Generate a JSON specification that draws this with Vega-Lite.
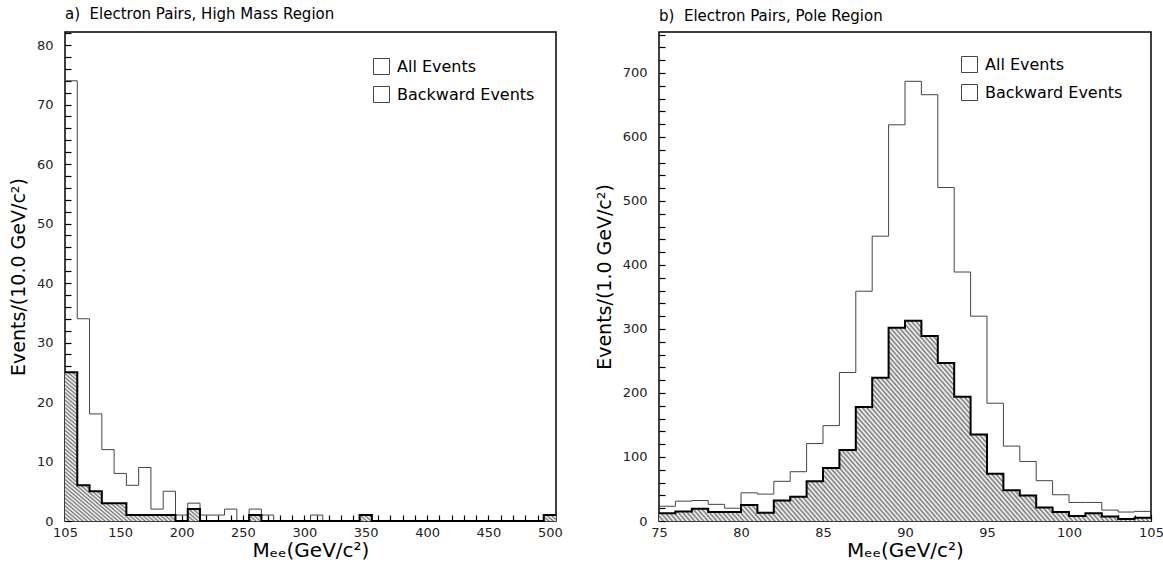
{
  "$schema": "https://vega.github.io/schema/vega-lite/v6.json",
  "padding": {"left": 8, "top": 6, "right": 8, "bottom": 2},
  "spacing": 30,
  "resolve": {"scale": {"opacity": "independent"}, "legend": {"opacity": "independent"}},
  "config": {
    "font": "DejaVu Sans",
    "view": {"stroke": "black", "strokeWidth": 1.5},
    "axis": {
      "zindex": 1, "offset": -6, "domain": false, "ticks": true,
      "tickColor": "black", "tickWidth": 1.2, "tickSize": 6,
      "labelFont": "DejaVu Sans", "labelFontSize": 13, "labelColor": "#222",
      "titleFont": "DejaVu Sans", "titleFontSize": 19, "titleFontWeight": "normal", "titleColor": "black",
      "grid": false, "labelFlush": false, "labelOverlap": false
    },
    "title": {"font": "DejaVu Sans", "fontSize": 15, "fontWeight": "normal", "anchor": "start", "frame": "group", "color": "black", "offset": 5},
    "line": {"strokeJoin": "miter", "strokeCap": "butt"},
    "area": {"stroke": null, "fill": {"gradient": "linear", "x1": 0, "y1": 1, "x2": 1.2035, "y2": 0.5715, "stops": [
{"offset":0,"color":"#777"},{"offset":0.0033,"color":"#fff"},{"offset":0.0067,"color":"#777"},
{"offset":0.01,"color":"#fff"},{"offset":0.0133,"color":"#777"},{"offset":0.0167,"color":"#fff"},
{"offset":0.02,"color":"#777"},{"offset":0.0233,"color":"#fff"},{"offset":0.0267,"color":"#777"},
{"offset":0.03,"color":"#fff"},{"offset":0.0333,"color":"#777"},{"offset":0.0367,"color":"#fff"},
{"offset":0.04,"color":"#777"},{"offset":0.0433,"color":"#fff"},{"offset":0.0467,"color":"#777"},
{"offset":0.05,"color":"#fff"},{"offset":0.0533,"color":"#777"},{"offset":0.0567,"color":"#fff"},
{"offset":0.06,"color":"#777"},{"offset":0.0633,"color":"#fff"},{"offset":0.0667,"color":"#777"},
{"offset":0.07,"color":"#fff"},{"offset":0.0733,"color":"#777"},{"offset":0.0767,"color":"#fff"},
{"offset":0.08,"color":"#777"},{"offset":0.0833,"color":"#fff"},{"offset":0.0867,"color":"#777"},
{"offset":0.09,"color":"#fff"},{"offset":0.0933,"color":"#777"},{"offset":0.0967,"color":"#fff"},
{"offset":0.1,"color":"#777"},{"offset":0.1033,"color":"#fff"},{"offset":0.1067,"color":"#777"},
{"offset":0.11,"color":"#fff"},{"offset":0.1133,"color":"#777"},{"offset":0.1167,"color":"#fff"},
{"offset":0.12,"color":"#777"},{"offset":0.1233,"color":"#fff"},{"offset":0.1267,"color":"#777"},
{"offset":0.13,"color":"#fff"},{"offset":0.1333,"color":"#777"},{"offset":0.1367,"color":"#fff"},
{"offset":0.14,"color":"#777"},{"offset":0.1433,"color":"#fff"},{"offset":0.1467,"color":"#777"},
{"offset":0.15,"color":"#fff"},{"offset":0.1533,"color":"#777"},{"offset":0.1567,"color":"#fff"},
{"offset":0.16,"color":"#777"},{"offset":0.1633,"color":"#fff"},{"offset":0.1667,"color":"#777"},
{"offset":0.17,"color":"#fff"},{"offset":0.1733,"color":"#777"},{"offset":0.1767,"color":"#fff"},
{"offset":0.18,"color":"#777"},{"offset":0.1833,"color":"#fff"},{"offset":0.1867,"color":"#777"},
{"offset":0.19,"color":"#fff"},{"offset":0.1933,"color":"#777"},{"offset":0.1967,"color":"#fff"},
{"offset":0.2,"color":"#777"},{"offset":0.2033,"color":"#fff"},{"offset":0.2067,"color":"#777"},
{"offset":0.21,"color":"#fff"},{"offset":0.2133,"color":"#777"},{"offset":0.2167,"color":"#fff"},
{"offset":0.22,"color":"#777"},{"offset":0.2233,"color":"#fff"},{"offset":0.2267,"color":"#777"},
{"offset":0.23,"color":"#fff"},{"offset":0.2333,"color":"#777"},{"offset":0.2367,"color":"#fff"},
{"offset":0.24,"color":"#777"},{"offset":0.2433,"color":"#fff"},{"offset":0.2467,"color":"#777"},
{"offset":0.25,"color":"#fff"},{"offset":0.2533,"color":"#777"},{"offset":0.2567,"color":"#fff"},
{"offset":0.26,"color":"#777"},{"offset":0.2633,"color":"#fff"},{"offset":0.2667,"color":"#777"},
{"offset":0.27,"color":"#fff"},{"offset":0.2733,"color":"#777"},{"offset":0.2767,"color":"#fff"},
{"offset":0.28,"color":"#777"},{"offset":0.2833,"color":"#fff"},{"offset":0.2867,"color":"#777"},
{"offset":0.29,"color":"#fff"},{"offset":0.2933,"color":"#777"},{"offset":0.2967,"color":"#fff"},
{"offset":0.3,"color":"#777"},{"offset":0.3033,"color":"#fff"},{"offset":0.3067,"color":"#777"},
{"offset":0.31,"color":"#fff"},{"offset":0.3133,"color":"#777"},{"offset":0.3167,"color":"#fff"},
{"offset":0.32,"color":"#777"},{"offset":0.3233,"color":"#fff"},{"offset":0.3267,"color":"#777"},
{"offset":0.33,"color":"#fff"},{"offset":0.3333,"color":"#777"},{"offset":0.3367,"color":"#fff"},
{"offset":0.34,"color":"#777"},{"offset":0.3433,"color":"#fff"},{"offset":0.3467,"color":"#777"},
{"offset":0.35,"color":"#fff"},{"offset":0.3533,"color":"#777"},{"offset":0.3567,"color":"#fff"},
{"offset":0.36,"color":"#777"},{"offset":0.3633,"color":"#fff"},{"offset":0.3667,"color":"#777"},
{"offset":0.37,"color":"#fff"},{"offset":0.3733,"color":"#777"},{"offset":0.3767,"color":"#fff"},
{"offset":0.38,"color":"#777"},{"offset":0.3833,"color":"#fff"},{"offset":0.3867,"color":"#777"},
{"offset":0.39,"color":"#fff"},{"offset":0.3933,"color":"#777"},{"offset":0.3967,"color":"#fff"},
{"offset":0.4,"color":"#777"},{"offset":0.4033,"color":"#fff"},{"offset":0.4067,"color":"#777"},
{"offset":0.41,"color":"#fff"},{"offset":0.4133,"color":"#777"},{"offset":0.4167,"color":"#fff"},
{"offset":0.42,"color":"#777"},{"offset":0.4233,"color":"#fff"},{"offset":0.4267,"color":"#777"},
{"offset":0.43,"color":"#fff"},{"offset":0.4333,"color":"#777"},{"offset":0.4367,"color":"#fff"},
{"offset":0.44,"color":"#777"},{"offset":0.4433,"color":"#fff"},{"offset":0.4467,"color":"#777"},
{"offset":0.45,"color":"#fff"},{"offset":0.4533,"color":"#777"},{"offset":0.4567,"color":"#fff"},
{"offset":0.46,"color":"#777"},{"offset":0.4633,"color":"#fff"},{"offset":0.4667,"color":"#777"},
{"offset":0.47,"color":"#fff"},{"offset":0.4733,"color":"#777"},{"offset":0.4767,"color":"#fff"},
{"offset":0.48,"color":"#777"},{"offset":0.4833,"color":"#fff"},{"offset":0.4867,"color":"#777"},
{"offset":0.49,"color":"#fff"},{"offset":0.4933,"color":"#777"},{"offset":0.4967,"color":"#fff"},
{"offset":0.5,"color":"#777"},{"offset":0.5033,"color":"#fff"},{"offset":0.5067,"color":"#777"},
{"offset":0.51,"color":"#fff"},{"offset":0.5133,"color":"#777"},{"offset":0.5167,"color":"#fff"},
{"offset":0.52,"color":"#777"},{"offset":0.5233,"color":"#fff"},{"offset":0.5267,"color":"#777"},
{"offset":0.53,"color":"#fff"},{"offset":0.5333,"color":"#777"},{"offset":0.5367,"color":"#fff"},
{"offset":0.54,"color":"#777"},{"offset":0.5433,"color":"#fff"},{"offset":0.5467,"color":"#777"},
{"offset":0.55,"color":"#fff"},{"offset":0.5533,"color":"#777"},{"offset":0.5567,"color":"#fff"},
{"offset":0.56,"color":"#777"},{"offset":0.5633,"color":"#fff"},{"offset":0.5667,"color":"#777"},
{"offset":0.57,"color":"#fff"},{"offset":0.5733,"color":"#777"},{"offset":0.5767,"color":"#fff"},
{"offset":0.58,"color":"#777"},{"offset":0.5833,"color":"#fff"},{"offset":0.5867,"color":"#777"},
{"offset":0.59,"color":"#fff"},{"offset":0.5933,"color":"#777"},{"offset":0.5967,"color":"#fff"},
{"offset":0.6,"color":"#777"},{"offset":0.6033,"color":"#fff"},{"offset":0.6067,"color":"#777"},
{"offset":0.61,"color":"#fff"},{"offset":0.6133,"color":"#777"},{"offset":0.6167,"color":"#fff"},
{"offset":0.62,"color":"#777"},{"offset":0.6233,"color":"#fff"},{"offset":0.6267,"color":"#777"},
{"offset":0.63,"color":"#fff"},{"offset":0.6333,"color":"#777"},{"offset":0.6367,"color":"#fff"},
{"offset":0.64,"color":"#777"},{"offset":0.6433,"color":"#fff"},{"offset":0.6467,"color":"#777"},
{"offset":0.65,"color":"#fff"},{"offset":0.6533,"color":"#777"},{"offset":0.6567,"color":"#fff"},
{"offset":0.66,"color":"#777"},{"offset":0.6633,"color":"#fff"},{"offset":0.6667,"color":"#777"},
{"offset":0.67,"color":"#fff"},{"offset":0.6733,"color":"#777"},{"offset":0.6767,"color":"#fff"},
{"offset":0.68,"color":"#777"},{"offset":0.6833,"color":"#fff"},{"offset":0.6867,"color":"#777"},
{"offset":0.69,"color":"#fff"},{"offset":0.6933,"color":"#777"},{"offset":0.6967,"color":"#fff"},
{"offset":0.7,"color":"#777"},{"offset":0.7033,"color":"#fff"},{"offset":0.7067,"color":"#777"},
{"offset":0.71,"color":"#fff"},{"offset":0.7133,"color":"#777"},{"offset":0.7167,"color":"#fff"},
{"offset":0.72,"color":"#777"},{"offset":0.7233,"color":"#fff"},{"offset":0.7267,"color":"#777"},
{"offset":0.73,"color":"#fff"},{"offset":0.7333,"color":"#777"},{"offset":0.7367,"color":"#fff"},
{"offset":0.74,"color":"#777"},{"offset":0.7433,"color":"#fff"},{"offset":0.7467,"color":"#777"},
{"offset":0.75,"color":"#fff"},{"offset":0.7533,"color":"#777"},{"offset":0.7567,"color":"#fff"},
{"offset":0.76,"color":"#777"},{"offset":0.7633,"color":"#fff"},{"offset":0.7667,"color":"#777"},
{"offset":0.77,"color":"#fff"},{"offset":0.7733,"color":"#777"},{"offset":0.7767,"color":"#fff"},
{"offset":0.78,"color":"#777"},{"offset":0.7833,"color":"#fff"},{"offset":0.7867,"color":"#777"},
{"offset":0.79,"color":"#fff"},{"offset":0.7933,"color":"#777"},{"offset":0.7967,"color":"#fff"},
{"offset":0.8,"color":"#777"},{"offset":0.8033,"color":"#fff"},{"offset":0.8067,"color":"#777"},
{"offset":0.81,"color":"#fff"},{"offset":0.8133,"color":"#777"},{"offset":0.8167,"color":"#fff"},
{"offset":0.82,"color":"#777"},{"offset":0.8233,"color":"#fff"},{"offset":0.8267,"color":"#777"},
{"offset":0.83,"color":"#fff"},{"offset":0.8333,"color":"#777"},{"offset":0.8367,"color":"#fff"},
{"offset":0.84,"color":"#777"},{"offset":0.8433,"color":"#fff"},{"offset":0.8467,"color":"#777"},
{"offset":0.85,"color":"#fff"},{"offset":0.8533,"color":"#777"},{"offset":0.8567,"color":"#fff"},
{"offset":0.86,"color":"#777"},{"offset":0.8633,"color":"#fff"},{"offset":0.8667,"color":"#777"},
{"offset":0.87,"color":"#fff"},{"offset":0.8733,"color":"#777"},{"offset":0.8767,"color":"#fff"},
{"offset":0.88,"color":"#777"},{"offset":0.8833,"color":"#fff"},{"offset":0.8867,"color":"#777"},
{"offset":0.89,"color":"#fff"},{"offset":0.8933,"color":"#777"},{"offset":0.8967,"color":"#fff"},
{"offset":0.9,"color":"#777"},{"offset":0.9033,"color":"#fff"},{"offset":0.9067,"color":"#777"},
{"offset":0.91,"color":"#fff"},{"offset":0.9133,"color":"#777"},{"offset":0.9167,"color":"#fff"},
{"offset":0.92,"color":"#777"},{"offset":0.9233,"color":"#fff"},{"offset":0.9267,"color":"#777"},
{"offset":0.93,"color":"#fff"},{"offset":0.9333,"color":"#777"},{"offset":0.9367,"color":"#fff"},
{"offset":0.94,"color":"#777"},{"offset":0.9433,"color":"#fff"},{"offset":0.9467,"color":"#777"},
{"offset":0.95,"color":"#fff"},{"offset":0.9533,"color":"#777"},{"offset":0.9567,"color":"#fff"},
{"offset":0.96,"color":"#777"},{"offset":0.9633,"color":"#fff"},{"offset":0.9667,"color":"#777"},
{"offset":0.97,"color":"#fff"},{"offset":0.9733,"color":"#777"},{"offset":0.9767,"color":"#fff"},
{"offset":0.98,"color":"#777"},{"offset":0.9833,"color":"#fff"},{"offset":0.9867,"color":"#777"},
{"offset":0.99,"color":"#fff"},{"offset":0.9933,"color":"#777"},{"offset":0.9967,"color":"#fff"},
{"offset":1,"color":"#777"}
    ]}}
  },
  "datasets": {
    "high": [
      {"lo":105,"hi":115,"all":74,"bwd":25},{"lo":115,"hi":125,"all":34,"bwd":6},
      {"lo":125,"hi":135,"all":18,"bwd":5},{"lo":135,"hi":145,"all":12,"bwd":3},
      {"lo":145,"hi":155,"all":8,"bwd":3},{"lo":155,"hi":165,"all":6,"bwd":1},
      {"lo":165,"hi":175,"all":9,"bwd":1},{"lo":175,"hi":185,"all":2,"bwd":1},
      {"lo":185,"hi":195,"all":5,"bwd":1},{"lo":195,"hi":205,"all":1,"bwd":0},
      {"lo":205,"hi":215,"all":3,"bwd":2},{"lo":215,"hi":225,"all":1,"bwd":0},
      {"lo":225,"hi":235,"all":1,"bwd":0},{"lo":235,"hi":245,"all":2,"bwd":0},
      {"lo":245,"hi":255,"all":0,"bwd":0},{"lo":255,"hi":265,"all":2,"bwd":1},
      {"lo":265,"hi":275,"all":1,"bwd":0},{"lo":275,"hi":285,"all":0,"bwd":0},
      {"lo":285,"hi":295,"all":0,"bwd":0},{"lo":295,"hi":305,"all":0,"bwd":0},
      {"lo":305,"hi":315,"all":1,"bwd":0},{"lo":315,"hi":325,"all":0,"bwd":0},
      {"lo":325,"hi":335,"all":0,"bwd":0},{"lo":335,"hi":345,"all":0,"bwd":0},
      {"lo":345,"hi":355,"all":1,"bwd":1},{"lo":355,"hi":365,"all":0,"bwd":0},
      {"lo":365,"hi":375,"all":0,"bwd":0},{"lo":375,"hi":385,"all":0,"bwd":0},
      {"lo":385,"hi":395,"all":0,"bwd":0},{"lo":395,"hi":405,"all":0,"bwd":0},
      {"lo":405,"hi":415,"all":0,"bwd":0},{"lo":415,"hi":425,"all":0,"bwd":0},
      {"lo":425,"hi":435,"all":0,"bwd":0},{"lo":435,"hi":445,"all":0,"bwd":0},
      {"lo":445,"hi":455,"all":0,"bwd":0},{"lo":455,"hi":465,"all":0,"bwd":0},
      {"lo":465,"hi":475,"all":0,"bwd":0},{"lo":475,"hi":485,"all":0,"bwd":0},
      {"lo":485,"hi":495,"all":0,"bwd":0},{"lo":495,"hi":505,"all":1,"bwd":1}
    ],
    "pole": [
      {"lo":75,"hi":76,"all":23,"bwd":12},{"lo":76,"hi":77,"all":31,"bwd":15},
      {"lo":77,"hi":78,"all":32,"bwd":19},{"lo":78,"hi":79,"all":26,"bwd":14},
      {"lo":79,"hi":80,"all":20,"bwd":14},{"lo":80,"hi":81,"all":44,"bwd":25},
      {"lo":81,"hi":82,"all":42,"bwd":13},{"lo":82,"hi":83,"all":62,"bwd":32},
      {"lo":83,"hi":84,"all":77,"bwd":38},{"lo":84,"hi":85,"all":121,"bwd":62},
      {"lo":85,"hi":86,"all":149,"bwd":83},{"lo":86,"hi":87,"all":232,"bwd":111},
      {"lo":87,"hi":88,"all":359,"bwd":178},{"lo":88,"hi":89,"all":445,"bwd":224},
      {"lo":89,"hi":90,"all":619,"bwd":302},{"lo":90,"hi":91,"all":687,"bwd":313},
      {"lo":91,"hi":92,"all":666,"bwd":289},{"lo":92,"hi":93,"all":521,"bwd":247},
      {"lo":93,"hi":94,"all":389,"bwd":194},{"lo":94,"hi":95,"all":320,"bwd":135},
      {"lo":95,"hi":96,"all":184,"bwd":74},{"lo":96,"hi":97,"all":117,"bwd":48},
      {"lo":97,"hi":98,"all":93,"bwd":40},{"lo":98,"hi":99,"all":63,"bwd":21},
      {"lo":99,"hi":100,"all":41,"bwd":14},{"lo":100,"hi":101,"all":29,"bwd":8},
      {"lo":101,"hi":102,"all":29,"bwd":12},{"lo":102,"hi":103,"all":17,"bwd":7},
      {"lo":103,"hi":104,"all":14,"bwd":3},{"lo":104,"hi":105,"all":15,"bwd":5}
    ]
  },
  "hconcat": [
    {
      "width": 491, "height": 489,
      "title": {"text": "a)\u00a0\u00a0Electron Pairs, High Mass Region"},
      "data": {"name": "high"},
      "transform": [
        {"fold": ["all", "bwd"], "as": ["series", "count"]},
        {"fold": ["lo", "hi"], "as": ["side", "mass"]}
      ],
      "encoding": {
        "x": {"field": "mass", "type": "quantitative", "title": "Mₑₑ(GeV/c²)",
          "scale": {"domain": [105, 505], "nice": false, "zero": false},
          "axis": {"values": [105,110,120,130,140,150,160,170,180,190,200,210,220,230,240,250,260,270,280,290,300,310,320,330,340,350,360,370,380,390,400,410,420,430,440,450,460,470,480,490,500],
            "labelExpr": "datum.value === 105 || datum.value % 50 === 0 ? datum.label : ''",
            "labelPadding": 5, "titlePadding": 1, "titleFontSize": 20}},
        "y": {"field": "count", "type": "quantitative", "stack": null, "title": "Events/(10.0 GeV/c²)",
          "scale": {"domain": [0, 82.2], "nice": false},
          "axis": {"values": [0,2,4,6,8,10,12,14,16,18,20,22,24,26,28,30,32,34,36,38,40,42,44,46,48,50,52,54,56,58,60,62,64,66,68,70,72,74,76,78,80,82],
            "labelExpr": "datum.value % 10 === 0 ? datum.label : ''",
            "labelPadding": 12, "titlePadding": 8}}
      },
      "layer": [
        {"transform": [{"filter": "datum.series === 'bwd'"}], "mark": {"type": "area"}},
        {"mark": {"type": "line"},
          "encoding": {
            "detail": {"field": "series"},
            "order": [{"field": "lo", "type": "quantitative"}, {"field": "side", "type": "nominal", "sort": "descending"}],
            "strokeWidth": {"condition": {"test": "datum.series === 'bwd'", "value": 2}, "value": 1},
            "color": {"condition": {"test": "datum.series === 'bwd'", "value": "black"}, "value": "#444"},
            "opacity": {"field": "series", "type": "ordinal", "scale": {"domain": ["all", "bwd"], "range": [1, 1]},
              "legend": {"orient": "none", "legendX": 308, "legendY": 26, "title": null, "symbolType": "square", "symbolSize": 256,
                "symbolStrokeWidth": 1, "labelFont": "DejaVu Sans", "labelFontSize": 16, "labelColor": "black", "labelOffset": 7, "rowPadding": 7,
                "labelExpr": "datum.value === 'all' ? 'All Events' : 'Backward Events'",
                "encode": {"symbols": {
                  "fill": {"condition": {"test": "datum.value === 'bwd' || datum.label === 'bwd' || datum.index === 1 || (datum.datum && datum.datum.value === 'bwd')", "value": {"gradient": "linear", "x1": 0, "y1": 1, "x2": 1, "y2": 0, "stops": [
                    {"offset":0,"color":"#fff"},{"offset":0.0714,"color":"#444"},{"offset":0.1429,"color":"#fff"},{"offset":0.2143,"color":"#444"},
                    {"offset":0.2857,"color":"#fff"},{"offset":0.3571,"color":"#444"},{"offset":0.4286,"color":"#fff"},{"offset":0.5,"color":"#444"},
                    {"offset":0.5714,"color":"#fff"},{"offset":0.6429,"color":"#444"},{"offset":0.7143,"color":"#fff"},{"offset":0.7857,"color":"#444"},
                    {"offset":0.8571,"color":"#fff"},{"offset":0.9286,"color":"#444"},{"offset":1,"color":"#fff"}]}}, "value": "white"},
                  "stroke": {"condition": {"test": "datum.value === 'bwd' || datum.label === 'bwd' || datum.index === 1 || (datum.datum && datum.datum.value === 'bwd')", "value": "transparent"}, "value": "black"},
                  "strokeWidth": {"value": 1}}}}}
          }}
      ]
    },
    {
      "width": 492, "height": 489,
      "title": {"text": "b)\u00a0\u00a0Electron Pairs, Pole Region"},
      "data": {"name": "pole"},
      "transform": [
        {"fold": ["all", "bwd"], "as": ["series", "count"]},
        {"fold": ["lo", "hi"], "as": ["side", "mass"]}
      ],
      "encoding": {
        "x": {"field": "mass", "type": "quantitative", "title": "Mₑₑ(GeV/c²)",
          "scale": {"domain": [75, 105], "nice": false, "zero": false},
          "axis": {"values": [75,76,77,78,79,80,81,82,83,84,85,86,87,88,89,90,91,92,93,94,95,96,97,98,99,100,101,102,103,104,105],
            "labelExpr": "datum.value % 5 === 0 ? datum.label : ''",
            "labelPadding": 5, "titlePadding": 1, "titleFontSize": 20}},
        "y": {"field": "count", "type": "quantitative", "stack": null, "title": "Events/(1.0 GeV/c²)",
          "scale": {"domain": [0, 764], "nice": false},
          "axis": {"values": [0,20,40,60,80,100,120,140,160,180,200,220,240,260,280,300,320,340,360,380,400,420,440,460,480,500,520,540,560,580,600,620,640,660,680,700,720,740,760],
            "labelExpr": "datum.value % 100 === 0 ? datum.label : ''",
            "labelPadding": 12, "titlePadding": 8}}
      },
      "layer": [
        {"transform": [{"filter": "datum.series === 'bwd'"}], "mark": {"type": "area"}},
        {"mark": {"type": "line"},
          "encoding": {
            "detail": {"field": "series"},
            "order": [{"field": "lo", "type": "quantitative"}, {"field": "side", "type": "nominal", "sort": "descending"}],
            "strokeWidth": {"condition": {"test": "datum.series === 'bwd'", "value": 2}, "value": 1},
            "color": {"condition": {"test": "datum.series === 'bwd'", "value": "black"}, "value": "#444"},
            "opacity": {"field": "series", "type": "ordinal", "scale": {"domain": ["all", "bwd"], "range": [1, 1]},
              "legend": {"orient": "none", "legendX": 302, "legendY": 24, "title": null, "symbolType": "square", "symbolSize": 256,
                "symbolStrokeWidth": 1, "labelFont": "DejaVu Sans", "labelFontSize": 16, "labelColor": "black", "labelOffset": 7, "rowPadding": 7,
                "labelExpr": "datum.value === 'all' ? 'All Events' : 'Backward Events'",
                "encode": {"symbols": {
                  "fill": {"condition": {"test": "datum.value === 'bwd' || datum.label === 'bwd' || datum.index === 1 || (datum.datum && datum.datum.value === 'bwd')", "value": {"gradient": "linear", "x1": 0, "y1": 1, "x2": 1, "y2": 0, "stops": [
                    {"offset":0,"color":"#fff"},{"offset":0.0714,"color":"#444"},{"offset":0.1429,"color":"#fff"},{"offset":0.2143,"color":"#444"},
                    {"offset":0.2857,"color":"#fff"},{"offset":0.3571,"color":"#444"},{"offset":0.4286,"color":"#fff"},{"offset":0.5,"color":"#444"},
                    {"offset":0.5714,"color":"#fff"},{"offset":0.6429,"color":"#444"},{"offset":0.7143,"color":"#fff"},{"offset":0.7857,"color":"#444"},
                    {"offset":0.8571,"color":"#fff"},{"offset":0.9286,"color":"#444"},{"offset":1,"color":"#fff"}]}}, "value": "white"},
                  "stroke": {"condition": {"test": "datum.value === 'bwd' || datum.label === 'bwd' || datum.index === 1 || (datum.datum && datum.datum.value === 'bwd')", "value": "transparent"}, "value": "black"},
                  "strokeWidth": {"value": 1}}}}}
          }}
      ]
    }
  ]
}
